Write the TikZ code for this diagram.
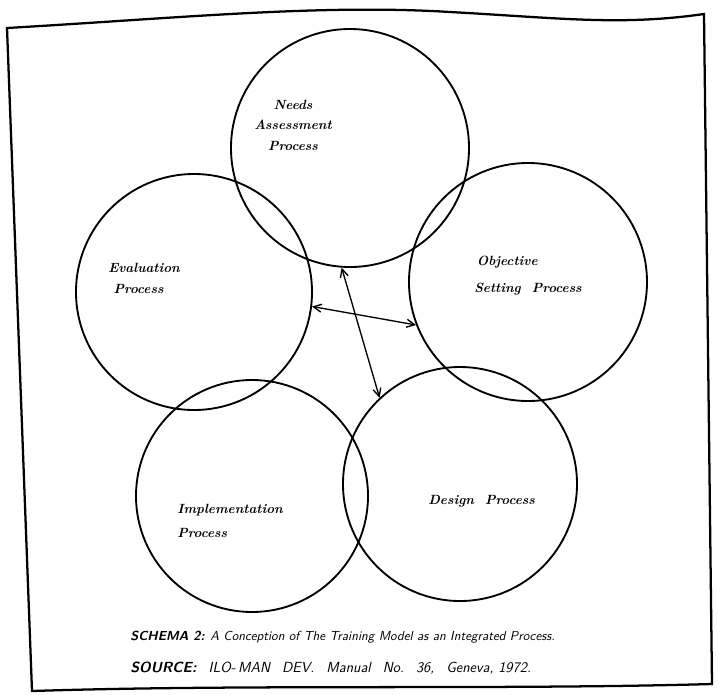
\documentclass[tikz,border=0pt]{standalone}
\usepackage{tikz}
\usetikzlibrary{arrows.meta}

\newcommand{\gapw}{\hspace{9pt}}

\begin{document}
\begin{tikzpicture}[x=0.75pt,y=0.75pt,yscale=-1,xscale=1,
  proc/.style={draw, circle, line width=1.4pt, inner sep=0pt, minimum size=#1*1.5pt},
  lbl/.style={inner sep=0.75pt, font=\bfseries\itshape\fontsize{10}{15}\selectfont},
  capt/.style={inner sep=0.75pt, anchor=west, font=\sffamily\itshape\fontsize{9.8}{12}\selectfont},
  link/.style={{Straight Barb[length=6pt,width=6pt]}-{Straight Barb[length=6pt,width=6pt]}, line width=1pt}]
\useasboundingbox (0,0) rectangle (718,694);

%Frame
\draw [line width=1.7pt] (7,28) .. controls (180,18) and (320,4) .. (450,12) .. controls (560,18) and (620,26) .. (704,14) -- (712,684) .. controls (500,690) and (250,684) .. (32,691) -- cycle ;

%Circles
\node [proc=119] (needs) at (350,148) {};
\node [proc=118] (evaluation) at (194,292) {};
\node [proc=119] (objective) at (528,282) {};
\node [proc=116] (implementation) at (252,496) {};
\node [proc=117] (design) at (460,484) {};

%Arrows
\draw [link] (needs.-94) -- (design.133) ;
\draw [link] (evaluation.-7) -- (objective.-159) ;

% Text Node
\node [lbl, anchor=north, align=center] (needslbl) at (293,99) {Needs\\Assessment\\[1pt]Process};
\node [lbl, anchor=north west, align=left] (evallbl) at (107,262) {Evaluation\\[1pt]\hspace*{4pt}Process};
\node [lbl, anchor=north west, align=left] (objlbl) at (473,255) {\hspace*{2pt}Objective\\[5pt]Setting\ \ Process};
\node [lbl, anchor=north west, align=left] (impllbl) at (176,503) {Implementation\\[3pt]Process};
\node [lbl, anchor=west] (designlbl) at (427,501) {Design\ \ Process};

% Caption
\node [capt] (schema) at (129,637) {\textbf{SCHEMA 2:} A Conception of The Training Model as an Integrated Process.};
\node [capt, font=\sffamily\itshape\fontsize{11}{13}\selectfont] (source) at (129,668) {\textbf{SOURCE:}\gapw ILO-\,MAN\gapw DEV.\gapw Manual\gapw No.\gapw 36,\gapw Geneva, 1972.};
\end{tikzpicture}
\end{document}
